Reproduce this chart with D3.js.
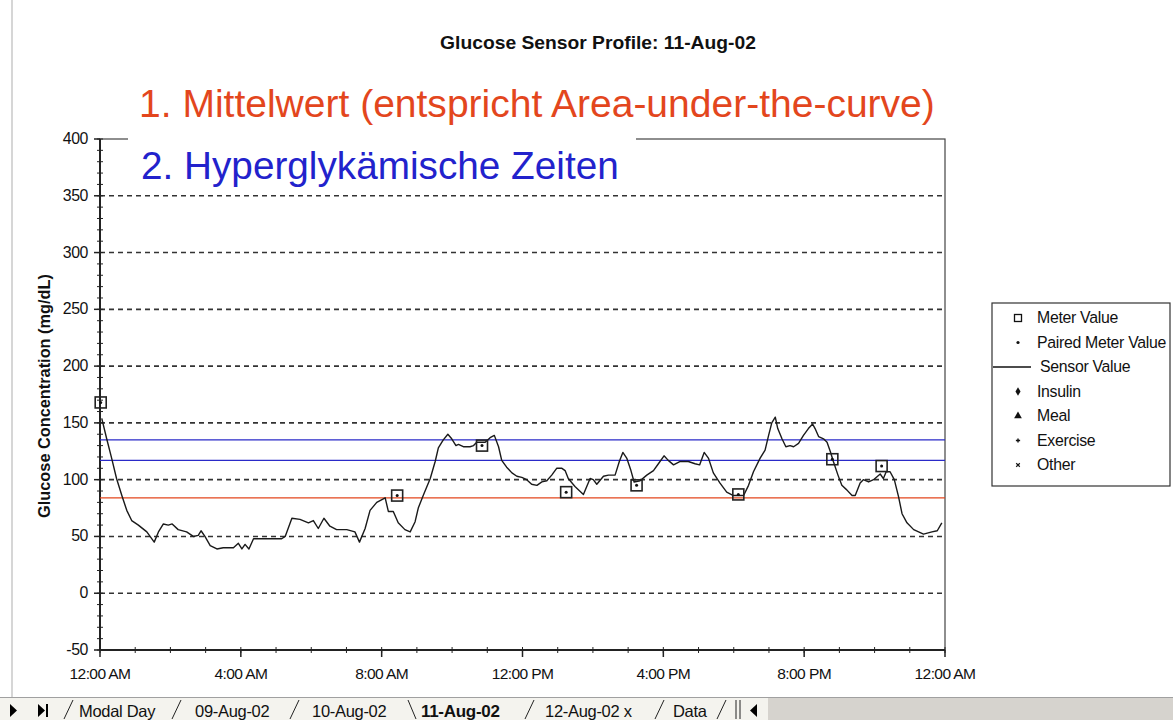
<!DOCTYPE html>
<html>
<head>
<meta charset="utf-8">
<script src="https://cdn.jsdelivr.net/npm/d3@7"></script>
<style>
  body { margin: 0; background: #fff; }
  svg { display: block; font-family: Arial, "Liberation Sans", sans-serif; }
</style>
</head>
<body>
<div id="chart"></div>
<script>
// sensor trace, hours after midnight and mg/dL
const sensorHours = [0.05,0.19,0.33,0.47,0.62,0.76,0.90,1.09,1.33,1.54,1.66,1.80,1.94,2.05,2.22,2.46,2.65,2.79,2.87,2.98,
  3.13,3.32,3.50,3.79,3.93,4.03,4.12,4.23,4.36,4.64,5.16,5.26,5.45,5.68,5.92,6.06,6.20,6.36,6.53,6.72,
  7.01,7.24,7.37,7.53,7.67,7.86,8.10,8.19,8.33,8.47,8.66,8.81,8.95,9.04,9.18,9.38,9.52,9.61,9.75,9.88,
  9.99,10.11,10.18,10.32,10.51,10.61,10.70,10.94,11.08,11.20,11.32,11.41,11.55,11.70,11.84,11.98,12.12,12.26,12.41,12.55,
  12.69,12.83,12.97,13.12,13.21,13.30,13.49,13.73,13.92,14.01,14.11,14.30,14.44,14.63,14.75,14.85,14.96,15.08,15.17,15.34,
  15.53,15.72,15.86,16.02,16.14,16.29,16.48,16.71,16.90,17.03,17.16,17.28,17.42,17.61,17.80,17.99,18.28,18.42,18.56,18.75,
  18.89,18.99,19.08,19.18,19.25,19.37,19.48,19.60,19.70,19.84,19.98,20.12,20.24,20.31,20.41,20.55,20.65,20.74,20.83,20.96,
  21.07,21.21,21.36,21.45,21.59,21.68,21.83,21.97,22.16,22.25,22.33,22.44,22.56,22.68,22.78,22.92,23.11,23.39,23.63,23.78,23.91];
const sensorValues = [154,136,119,101,86,73,64,60,54,45,54,61,60,61,56,54,50,51,55,50,
  42,39,40,40,44,39,43,39,48,48,48,50,66,65,62,64,57,66,59,56,
  56,54,45,57,73,80,84,72,72,62,56,54,63,75,86,101,116,128,135,140,
  136,130,131,129,129,130,133,133,137,139,129,117,111,106,103,102,100,96,95,98,
  99,104,110,110,108,101,94,87,101,100,96,103,104,104,116,124,119,108,98,99,
  104,108,114,121,117,113,116,116,114,113,124,119,106,97,89,86,86,95,107,119,
  126,139,150,155,145,136,129,130,129,132,139,145,149,145,138,136,133,125,116,104,
  95,91,86,86,97,100,98,100,105,101,107,107,100,85,70,62,56,52,54,55,62];

const meterHours = [0.02, 8.44, 10.85, 13.24, 15.24, 18.13, 20.80, 22.20];
const meterValues = [168, 86, 130, 89, 95, 87, 118, 112];

const refLevels = [135, 117, 84];
const refColors = ["#2a2ac8", "#2a2ac8", "#e3461d"];

const yTicks = [400, 350, 300, 250, 200, 150, 100, 50, 0, -50];
const gridLevels = [350, 300, 250, 200, 150, 100, 50, 0];
const xTickHours = [0, 4, 8, 12, 16, 20, 24];
const xTickLabels = ["12:00 AM", "4:00 AM", "8:00 AM", "12:00 PM", "4:00 PM", "8:00 PM", "12:00 AM"];

const legendLabels = ["Meter Value", "Paired Meter Value", "Sensor Value", "Insulin", "Meal", "Exercise", "Other"];
const sheetTabs = ["Modal Day", "09-Aug-02", "10-Aug-02", "11-Aug-02", "12-Aug-02 x", "Data"];

const width = 1173, height = 720;
const svg = d3.select('#chart').append('svg').attr('width', width).attr('height', height);

const x = d3.scaleLinear().domain([0, 24]).range([100, 945]);
const y = d3.scaleLinear().domain([-50, 400]).range([650, 139]);

// scale a text's font so it spans the given width
function fitText(sel, target) {
  const w = sel.node().getComputedTextLength();
  const fs = +sel.attr('font-size');
  const nfs = fs * target / w;
  sel.attr('font-size', nfs);
  return nfs;
}

// window edge
svg.append('line').attr('x1', 12).attr('x2', 12).attr('y1', 0).attr('y2', 697)
  .attr('stroke', '#c8c8c8').attr('stroke-width', 1.5);

// title
const title = svg.append('text').attr('x', 598).attr('y', 49).attr('text-anchor', 'middle')
  .attr('font-size', 16).attr('font-weight', 'bold').attr('fill', '#111')
  .text('Glucose Sensor Profile: 11-Aug-02');
fitText(title, 316);

// gridlines
svg.append('g').selectAll('line').data(gridLevels).enter().append('line')
  .attr('x1', x(0)).attr('x2', x(24))
  .attr('y1', d => y(d)).attr('y2', d => y(d))
  .attr('stroke', '#333').attr('stroke-width', 1.6).attr('stroke-dasharray', '5,4');

// frame
svg.append('rect').attr('x', x(0)).attr('y', y(400)).attr('width', x(24) - x(0)).attr('height', y(-50) - y(400))
  .attr('fill', 'none').attr('stroke', '#444').attr('stroke-width', 1.2);

// y axis
const yAxis = svg.append('g');
yAxis.append('line').attr('x1', x(0)).attr('x2', x(0)).attr('y1', y(400)).attr('y2', y(-50))
  .attr('stroke', '#222').attr('stroke-width', 2);
yAxis.selectAll('.minor').data(d3.range(-50, 401, 10)).enter().append('line')
  .attr('x1', x(0) - 3).attr('x2', x(0) + 3)
  .attr('y1', d => y(d)).attr('y2', d => y(d)).attr('stroke', '#222');
yAxis.selectAll('.major').data(yTicks).enter().append('line')
  .attr('x1', x(0) - 6).attr('x2', x(0))
  .attr('y1', d => y(d)).attr('y2', d => y(d)).attr('stroke', '#222').attr('stroke-width', 1.5);
const yLabels = yAxis.selectAll('text').data(yTicks).enter().append('text')
  .attr('x', 88).attr('y', d => y(d) + 5).attr('text-anchor', 'end')
  .attr('font-size', 12.5).attr('letter-spacing', -0.4).attr('fill', '#111').text(d => d);
const yfs = fitText(d3.select(yLabels.nodes()[0]), 25);
yLabels.attr('font-size', yfs);

const yTitle = svg.append('text').attr('transform', 'translate(50,396) rotate(-90)').attr('text-anchor', 'middle')
  .attr('font-size', 13).attr('font-weight', 'bold').attr('fill', '#111')
  .text('Glucose Concentration (mg/dL)');
fitText(yTitle, 244);

// x axis
const xAxis = svg.append('g');
xAxis.append('line').attr('x1', x(0)).attr('x2', x(24)).attr('y1', y(-50)).attr('y2', y(-50))
  .attr('stroke', '#222').attr('stroke-width', 2);
xAxis.selectAll('.minor').data(d3.range(0, 25, 1)).enter().append('line')
  .attr('x1', d => x(d)).attr('x2', d => x(d))
  .attr('y1', y(-50) - 3).attr('y2', y(-50) + 3).attr('stroke', '#222');
xAxis.selectAll('.major').data(xTickHours).enter().append('line')
  .attr('x1', d => x(d)).attr('x2', d => x(d))
  .attr('y1', y(-50)).attr('y2', y(-50) + 7).attr('stroke', '#222').attr('stroke-width', 1.5);
const xLabels = xAxis.selectAll('text').data(xTickHours).enter().append('text')
  .attr('x', d => x(d)).attr('y', 679).attr('text-anchor', 'middle')
  .attr('font-size', 13).attr('letter-spacing', -0.6).attr('fill', '#111')
  .text((d, i) => xTickLabels[i]);
const xfs = fitText(d3.select(xLabels.nodes()[0]), 60);
xLabels.attr('font-size', xfs);

// reference levels
svg.append('g').selectAll('line').data(refLevels).enter().append('line')
  .attr('x1', x(0)).attr('x2', x(24))
  .attr('y1', d => y(d)).attr('y2', d => y(d))
  .attr('stroke', (d, i) => refColors[i]).attr('stroke-width', 1.3);

// sensor trace
const sensor = sensorHours.map((h, i) => [h, sensorValues[i]]);
svg.append('path').datum(sensor)
  .attr('d', d3.line().x(d => x(d[0])).y(d => y(d[1])))
  .attr('fill', 'none').attr('stroke', '#1a1a1a').attr('stroke-width', 1.4).attr('stroke-linejoin', 'round');

// meter values
const meters = svg.append('g').selectAll('g').data(meterHours).enter().append('g')
  .attr('transform', (d, i) => `translate(${x(d)},${y(meterValues[i])})`);
meters.append('rect').attr('x', -5.5).attr('y', -5.5).attr('width', 11).attr('height', 11)
  .attr('fill', 'none').attr('stroke', '#222').attr('stroke-width', 1.6);
meters.append('circle').attr('r', 1.5).attr('fill', '#111');

// annotation boxes
svg.append('rect').attr('x', 128).attr('y', 76).attr('width', 816).attr('height', 52).attr('fill', '#fff');
svg.append('rect').attr('x', 128).attr('y', 128).attr('width', 508).attr('height', 62).attr('fill', '#fff');

const t1 = svg.append('text').attr('x', 139).attr('y', 117).attr('font-size', 34)
  .attr('fill', '#e3461d').text('1. Mittelwert (entspricht Area-under-the-curve)');
fitText(t1, 796);
const t2 = svg.append('text').attr('x', 141).attr('y', 179).attr('font-size', 34)
  .attr('fill', '#2222cc').text('2. Hyperglykämische Zeiten');
fitText(t2, 478);

// legend
const lg = svg.append('g');
lg.append('rect').attr('x', 992).attr('y', 303).attr('width', 178).attr('height', 183)
  .attr('fill', '#fff').attr('stroke', '#333').attr('stroke-width', 1.2);
const ly = d3.scalePoint().domain(legendLabels).range([318, 465]);
const lText = lg.selectAll('text').data(legendLabels).enter().append('text')
  .attr('x', (d, i) => i === 2 ? 1040 : 1037).attr('y', d => ly(d) + 5)
  .attr('font-size', 13).attr('letter-spacing', -0.3).attr('fill', '#111').text(d => d);
const lfs = fitText(d3.select(lText.nodes()[1]), 128);
lText.attr('font-size', lfs);
const sx = 1018;
lg.append('rect').attr('x', sx - 3.5).attr('y', ly('Meter Value') - 3.5).attr('width', 7).attr('height', 7)
  .attr('fill', 'none').attr('stroke', '#111').attr('stroke-width', 1.3);
lg.append('circle').attr('cx', sx).attr('cy', ly('Paired Meter Value')).attr('r', 1.6).attr('fill', '#111');
lg.append('line').attr('x1', 993).attr('x2', 1031).attr('y1', ly('Sensor Value')).attr('y2', ly('Sensor Value'))
  .attr('stroke', '#111').attr('stroke-width', 1.3);
lg.append('path').attr('d', d3.symbol(d3.symbolDiamond, 22)())
  .attr('transform', `translate(${sx},${ly('Insulin')})`).attr('fill', '#111');
lg.append('path').attr('d', d3.symbol(d3.symbolTriangle, 26)())
  .attr('transform', `translate(${sx},${ly('Meal')})`).attr('fill', '#111');
lg.append('path').attr('d', d3.symbol(d3.symbolCross, 10)())
  .attr('transform', `translate(${sx},${ly('Exercise')})`).attr('fill', '#111');
lg.append('path').attr('d', d3.symbol(d3.symbolX, 10)())
  .attr('transform', `translate(${sx},${ly('Other')})`).attr('stroke', '#111').attr('stroke-width', 1.2);

// sheet tab bar
const bar = svg.append('g');
bar.append('rect').attr('x', 0).attr('y', 697).attr('width', width).attr('height', 23).attr('fill', '#f4f3ee');
bar.append('rect').attr('x', 768).attr('y', 697).attr('width', width - 768).attr('height', 23).attr('fill', '#d6d3ce');
bar.append('line').attr('x1', 0).attr('x2', width).attr('y1', 697.5).attr('y2', 697.5).attr('stroke', '#a0a0a0');
bar.append('path').attr('d', 'M10,704 L17,710.5 L10,717 Z').attr('fill', '#000');
bar.append('path').attr('d', 'M38,704 L45,710.5 L38,717 Z M46,704 L48,704 L48,717 L46,717 Z').attr('fill', '#000');
bar.append('path').attr('d', 'M757,704 L750,710.5 L757,717 Z').attr('fill', '#000');
bar.append('path').attr('d', 'M736,700 L736,719 M740,700 L740,719').attr('stroke', '#222');

const slashX = [64, 172, 290, 525, 655, 717];
bar.selectAll('.slash').data(slashX).enter().append('path')
  .attr('d', d => `M${d},719 L${d + 9},700`).attr('stroke', '#222').attr('fill', 'none');
bar.append('path').attr('d', 'M408,700 L416,719').attr('stroke', '#222').attr('fill', 'none');

const tabTextX = [79, 195, 312, 421, 545, 673];
bar.selectAll('.tab').data(sheetTabs).enter().append('text')
  .attr('x', (d, i) => tabTextX[i]).attr('y', 717)
  .attr('font-size', (d, i) => i === 3 ? 17 : 16.5)
  .attr('font-weight', (d, i) => i === 3 ? 'bold' : 'normal')
  .attr('letter-spacing', -0.3)
  .attr('fill', '#111').text(d => d);
</script>
</body>
</html>
